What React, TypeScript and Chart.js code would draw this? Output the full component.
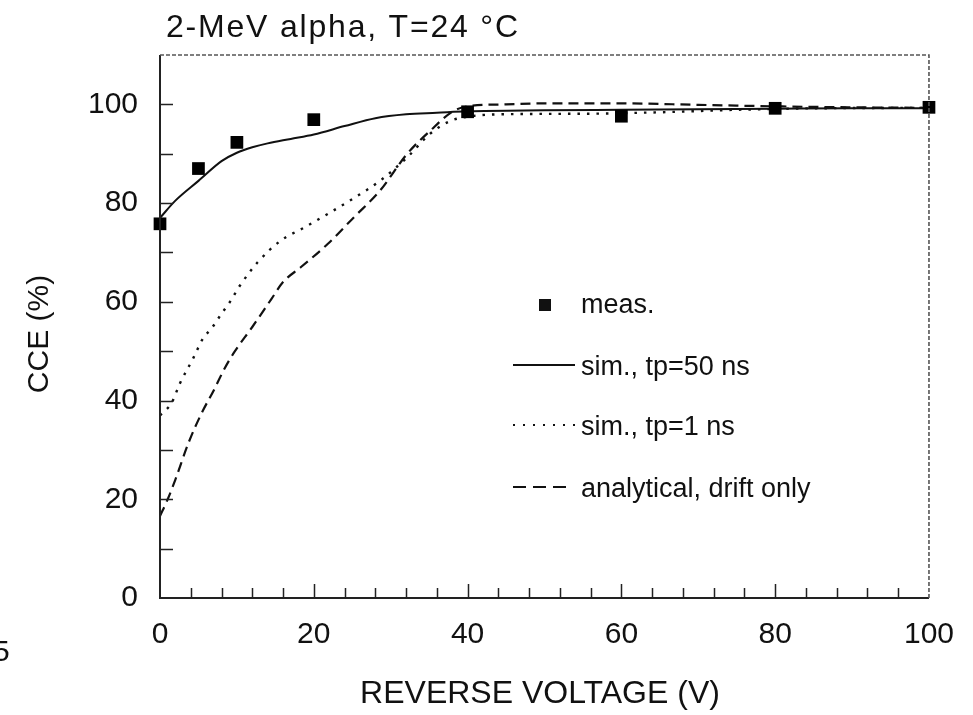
import React, { useEffect, useRef } from 'react';
import { Chart, registerables } from 'chart.js';

Chart.register(...registerables);

// ---- data ----
const measV = [0, 5, 10, 20, 40, 60, 80, 100];
const measCCE = [75.8, 87, 92.3, 96.9, 98.5, 97.6, 99.2, 99.4];

const sim50V = [0, 2, 5, 8, 10, 12, 14, 17, 20, 24, 28, 32, 36, 40, 50, 60, 70, 80, 90, 100];
const sim50CCE = [77, 80.5, 84.5, 88.5, 90.2, 91.3, 92.1, 93, 93.9, 95.6, 97.2, 98, 98.3, 98.6, 98.8, 98.9, 99, 99.1, 99.2, 99.2];

const sim1V = [0, 1.5, 2.6, 4.3, 5.6, 6.7, 8, 9.1, 10.4, 12.7, 15.7, 18.7, 21.8, 25.2, 28.6, 32.1, 35.1, 37.7, 40, 45, 55, 65, 75, 85, 100];
const sim1CCE = [37, 39.5, 43.5, 48.5, 52.6, 54.6, 57.6, 60, 63.3, 68, 72.4, 75, 77.8, 81, 84.5, 89.2, 94, 96.6, 97.5, 98, 98.1, 98.4, 98.9, 99.2, 99.3];

const anaV = [0, 1, 2, 3.7, 5.4, 7, 8.4, 9.7, 12, 14.5, 16, 18.3, 21.8, 25.2, 28.6, 32.1, 35.1, 38.1, 40, 45, 50, 60, 70, 80, 90, 100];
const anaCCE = [16.6, 20, 24, 31.4, 37.4, 42.1, 46.5, 49.9, 54.9, 60.6, 64, 67, 71.7, 77.1, 82.5, 89.9, 94.6, 98.6, 99.6, 100, 100.2, 100.2, 99.9, 99.6, 99.4, 99.3];

const titleText = '2-MeV alpha, T=24 °C';
const xTitle = 'REVERSE VOLTAGE (V)';
const yTitle = 'CCE (%)';
const legendLabels = ['meas.', 'sim., tp=50 ns', 'sim., tp=1 ns', 'analytical, drift only'];
const cornerText = '5';

const xMin = 0, xMax = 100, xStep = 20, xMinorStep = 4;
const yMin = 0, yMax = 110, yStep = 20, yMinorStep = 10;

const FONT = "'Liberation Sans', Arial, Helvetica, sans-serif";
const INK = '#111';

const zip = (xs: number[], ys: number[]) => xs.map((x, i) => ({ x, y: ys[i] }));

const decorPlugin = {
  id: 'decor',
  afterDraw(chart: any) {
    const { ctx, chartArea: a, scales } = chart;
    const xs = scales.x, ys = scales.y;
    ctx.save();

    // frame
    ctx.strokeStyle = '#222';
    ctx.lineWidth = 2;
    ctx.beginPath();
    ctx.moveTo(a.left, a.top);
    ctx.lineTo(a.left, a.bottom);
    ctx.lineTo(a.right, a.bottom);
    ctx.stroke();
    ctx.strokeStyle = '#555';
    ctx.lineWidth = 1.6;
    ctx.setLineDash([4, 2]);
    ctx.beginPath();
    ctx.moveTo(a.left, a.top);
    ctx.lineTo(a.right, a.top);
    ctx.lineTo(a.right, a.bottom);
    ctx.stroke();
    ctx.setLineDash([]);

    // inward ticks
    ctx.strokeStyle = '#222';
    ctx.lineWidth = 1.5;
    ctx.beginPath();
    for (let v = yMin + yMinorStep; v <= 100; v += yMinorStep) {
      const py = Math.round(ys.getPixelForValue(v)) + 0.5;
      ctx.moveTo(a.left, py);
      ctx.lineTo(a.left + 13, py);
    }
    for (let v = xMin + xMinorStep; v < xMax; v += xMinorStep) {
      const px = Math.round(xs.getPixelForValue(v)) + 0.5;
      const len = v % xStep === 0 ? 14 : 10;
      ctx.moveTo(px, a.bottom);
      ctx.lineTo(px, a.bottom - len);
    }
    ctx.stroke();

    // title
    ctx.fillStyle = INK;
    ctx.font = `32px ${FONT}`;
    ctx.textAlign = 'left';
    ctx.textBaseline = 'alphabetic';
    (ctx as any).letterSpacing = '1.8px';
    ctx.fillText(titleText, 166, 37);
    (ctx as any).letterSpacing = '0px';

    // axis titles
    ctx.textAlign = 'center';
    ctx.font = `32px ${FONT}`;
    ctx.fillText(xTitle, 540, 703);
    ctx.font = `30px ${FONT}`;
    ctx.save();
    ctx.translate(48, 334);
    ctx.rotate(-Math.PI / 2);
    ctx.fillText(yTitle, 0, 0);
    ctx.restore();

    // corner fragment
    ctx.textAlign = 'left';
    ctx.fillText(cornerText, -7, 661);

    // legend
    const baselines = [313, 375, 435, 497];
    const textX = 581;
    ctx.font = `27px ${FONT}`;
    ctx.textAlign = 'left';
    legendLabels.forEach((lab, i) => ctx.fillText(lab, textX, baselines[i]));
    // marker
    ctx.fillRect(539, baselines[0] - 14, 12, 12);
    // lines
    const lineY = (i: number) => baselines[i] - 10;
    ctx.strokeStyle = INK;
    ctx.lineWidth = 2;
    ctx.beginPath();
    ctx.moveTo(513, lineY(1));
    ctx.lineTo(575, lineY(1));
    ctx.stroke();
    ctx.setLineDash([2, 8]);
    ctx.beginPath();
    ctx.moveTo(513, lineY(2));
    ctx.lineTo(577, lineY(2));
    ctx.stroke();
    ctx.setLineDash([13, 7]);
    ctx.beginPath();
    ctx.moveTo(513, lineY(3));
    ctx.lineTo(568, lineY(3));
    ctx.stroke();
    ctx.setLineDash([]);

    ctx.restore();
  },
};

export default function App() {
  const ref = useRef<HTMLCanvasElement | null>(null);

  useEffect(() => {
    if (!ref.current) return;
    const chart = new Chart(ref.current, {
      type: 'scatter',
      data: {
        datasets: [
          {
            label: legendLabels[0],
            data: zip(measV, measCCE),
            showLine: false,
            pointStyle: 'rect',
            pointRadius: 9,
            pointBorderWidth: 0,
            backgroundColor: '#000',
            borderColor: '#000',
            clip: false,
          },
          {
            label: legendLabels[1],
            data: zip(sim50V, sim50CCE),
            showLine: true,
            borderColor: INK,
            borderWidth: 2,
            pointRadius: 0,
            cubicInterpolationMode: 'monotone',
            clip: false,
          },
          {
            label: legendLabels[2],
            data: zip(sim1V, sim1CCE),
            showLine: true,
            borderColor: INK,
            borderWidth: 2.4,
            borderDash: [2.5, 7],
            pointRadius: 0,
            cubicInterpolationMode: 'monotone',
            clip: false,
          },
          {
            label: legendLabels[3],
            data: zip(anaV, anaCCE),
            showLine: true,
            borderColor: INK,
            borderWidth: 2.2,
            borderDash: [10, 6],
            pointRadius: 0,
            cubicInterpolationMode: 'monotone',
            clip: false,
          },
        ],
      } as any,
      options: {
        animation: false,
        responsive: true,
        maintainAspectRatio: false,
        layout: { padding: { left: 0, top: 55, right: 43, bottom: 0 } },
        plugins: {
          legend: { display: false },
          tooltip: { enabled: false },
          title: { display: false },
        },
        scales: {
          x: {
            type: 'linear',
            min: xMin,
            max: xMax,
            grid: { display: false, drawTicks: false },
            border: { display: false },
            ticks: {
              stepSize: xStep,
              color: INK,
              font: { size: 30, family: FONT },
              padding: 19,
              maxRotation: 0,
            },
            afterFit: (s: any) => { s.height = 117; },
          },
          y: {
            type: 'linear',
            min: yMin,
            max: yMax,
            grid: { display: false, drawTicks: false },
            border: { display: false },
            ticks: {
              stepSize: yStep,
              includeBounds: false,
              color: INK,
              font: { size: 30, family: FONT },
              padding: 22,
            },
            afterFit: (s: any) => { s.width = 160; },
          },
        },
      } as any,
      plugins: [decorPlugin],
    });
    return () => chart.destroy();
  }, []);

  return (
    <div style={{ position: 'absolute', left: 0, top: 0, width: 973, height: 715, background: '#fff' }}>
      <canvas ref={ref} />
    </div>
  );
}
